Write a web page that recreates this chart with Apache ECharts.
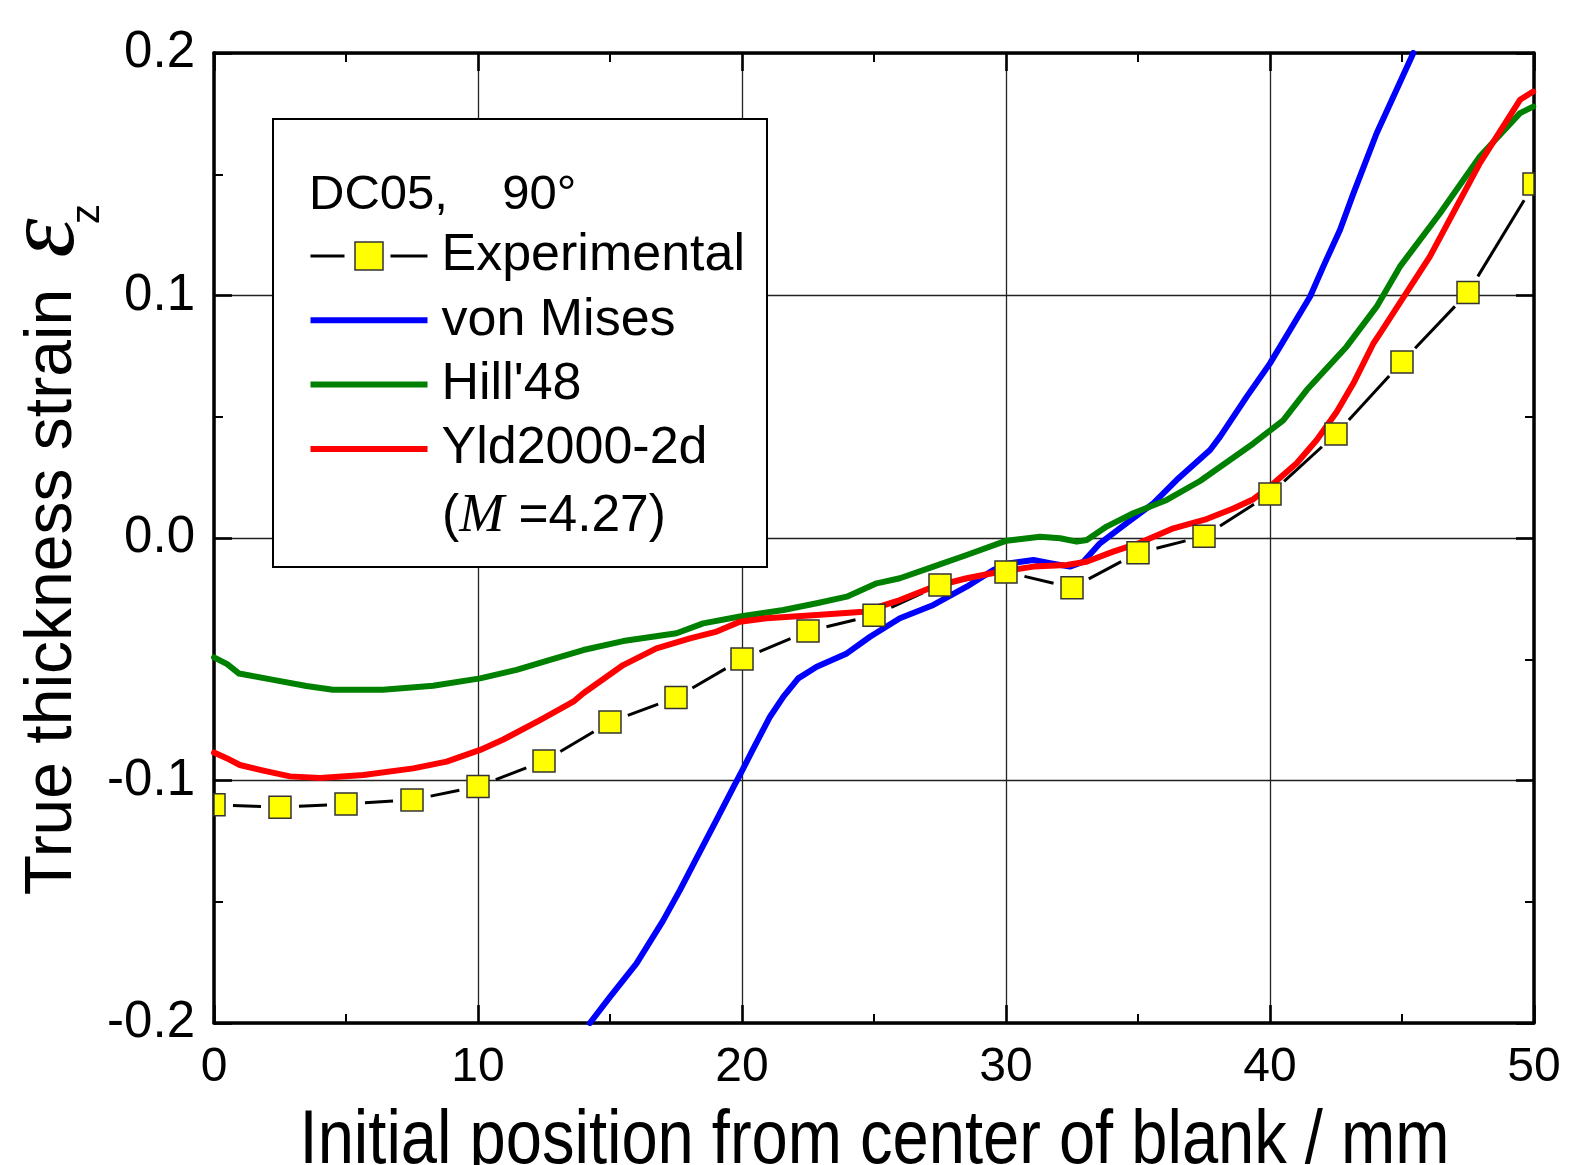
<!DOCTYPE html>
<html><head><meta charset="utf-8">
<script src="https://cdn.jsdelivr.net/npm/echarts@6/dist/echarts.min.js"></script>
<style>html,body{margin:0;padding:0;background:#fff}#c{width:1581px;height:1165px}</style>
</head><body><div id="c"></div>
<script>
// ---------------- data ----------------
const xTicks = [0, 10, 20, 30, 40, 50];
const yTicks = [-0.2, -0.1, 0.0, 0.1, 0.2];

const expX = [0, 2.5, 5, 7.5, 10, 12.5, 15, 17.5, 20, 22.5, 25, 27.5, 30, 32.5, 35, 37.5, 40, 42.5, 45, 47.5, 50];
const expY = [-0.110, -0.111, -0.1097, -0.108, -0.1025, -0.092, -0.0759, -0.0658, -0.0499, -0.0384, -0.0319, -0.0194, -0.014, -0.0205, -0.0061, 0.0007, 0.0181, 0.0429, 0.0726, 0.1012, 0.146];

const vmX = [14.24, 15, 16, 17, 17.65, 18.2, 19.04, 19.7, 20.0, 20.4, 21.06, 21.57, 22.13, 22.83, 23.97, 24.85, 25.98, 27.25, 28.51, 29.52, 30.15, 31.04, 31.67, 32.42, 32.93, 33.56, 34.57, 35.58, 36.46, 37.73, 38.11, 39.12, 40, 40.76, 41.52, 42.02, 42.65, 43.16, 44.04, 45.43];
const vmY = [-0.2, -0.1892, -0.1755, -0.158, -0.1452, -0.1337, -0.1161, -0.1022, -0.096, -0.0875, -0.0737, -0.0654, -0.0579, -0.0531, -0.0476, -0.0407, -0.0331, -0.0276, -0.0201, -0.0132, -0.0104, -0.0091, -0.0104, -0.0118, -0.0098, -0.0022, 0.0061, 0.0143, 0.0239, 0.0363, 0.0418, 0.0583, 0.072, 0.0858, 0.0996, 0.112, 0.127, 0.1421, 0.1669, 0.2];

const hillX = [0, 0.5, 0.95, 2.2, 3.5, 4.5, 6.4, 8.3, 10.08, 11.46, 12.73, 13.99, 15.5, 17.52, 18.53, 19.92, 21.57, 22.83, 23.97, 25.1, 25.98, 27.25, 28.51, 30.02, 31.29, 32.05, 32.68, 33.06, 33.81, 34.82, 36.09, 37.35, 39.37, 40.5, 41.39, 42.9, 44.04, 44.92, 46.44, 47.95, 49.47, 49.97];
const hillY = [-0.0492, -0.052, -0.0559, -0.0584, -0.061, -0.0626, -0.0626, -0.0609, -0.0579, -0.0544, -0.0503, -0.0462, -0.0425, -0.0393, -0.0352, -0.0324, -0.0297, -0.0269, -0.0242, -0.0187, -0.0166, -0.0118, -0.007, -0.0011, 0.0005, -0.0001, -0.0015, -0.0008, 0.0047, 0.0102, 0.0157, 0.0235, 0.039, 0.0485, 0.061, 0.0789, 0.0954, 0.1119, 0.1339, 0.1573, 0.1752, 0.1779];

const yldX = [0, 0.48, 0.98, 1.87, 2.88, 4.02, 5.66, 7.55, 8.81, 10.08, 10.96, 12.35, 13.61, 13.99, 15.5, 16.76, 18.03, 19.04, 19.92, 20.93, 22.83, 24.6, 25.98, 27.25, 28.51, 29.77, 31.04, 32.3, 33.05, 34.06, 35.07, 36.34, 37.6, 38.61, 39.37, 40, 41.01, 41.77, 42.53, 43.16, 43.92, 44.17, 46.06, 47.95, 49.47, 49.97];
const yldY = [-0.0885, -0.0908, -0.0936, -0.0959, -0.0983, -0.099, -0.0977, -0.095, -0.0922, -0.0874, -0.0831, -0.0751, -0.0675, -0.064, -0.0524, -0.0455, -0.0414, -0.0386, -0.0345, -0.0331, -0.0318, -0.0304, -0.0256, -0.0201, -0.0166, -0.0139, -0.0118, -0.0111, -0.0098, -0.0056, -0.002, 0.004, 0.0078, 0.0122, 0.016, 0.0212, 0.0308, 0.0404, 0.0521, 0.0638, 0.0803, 0.0844, 0.1161, 0.1546, 0.1807, 0.1841];

const seriesNames = ['Experimental', 'von Mises', "Hill'48", 'Yld2000-2d'];
const legendTitle = 'DC05,    90°';
const legendNote = '({m|M} =4.27)';
const xTitle = 'Initial position from center of blank / mm';
const yTitle = 'True thickness strain';

// ---------------- chart ----------------
const FONT = "'Liberation Sans', Arial, sans-serif";
const SERIF = "'Liberation Serif', 'Times New Roman', serif";
const zip = (xs, ys) => xs.map((x, i) => [x, ys[i]]);
const expData = zip(expX, expY);
const LINE_ICON = 'path://M0,0L117,0L117,6L0,6Z';
const MARK = 22;
const LW = 6;

const axisCommon = {
  type: 'value',
  axisLine: { show: true, onZero: false, lineStyle: { color: '#000', width: 3.5 } },
  axisTick: { show: true, inside: true, length: 18, lineStyle: { color: '#000', width: 2.6 } },
  minorTick: { show: true, splitNumber: 2, length: 9, lineStyle: { color: '#000', width: 2 } },
};
const gridLine = { show: true, lineStyle: { color: '#222', width: 1.3 } };

const chart = echarts.init(document.getElementById('c'), null, { renderer: 'canvas' });
chart.setOption({
  animation: false,
  backgroundColor: '#fff',
  grid: { left: 214, right: 47, top: 53, bottom: 142, containLabel: false },
  xAxis: [
    Object.assign({}, axisCommon, {
      min: xTicks[0], max: xTicks[xTicks.length - 1], interval: xTicks[1] - xTicks[0], position: 'bottom',
      axisLabel: { fontSize: 48, color: '#000', fontFamily: FONT, margin: 21 },
      splitLine: gridLine
    }),
    Object.assign({}, axisCommon, {
      min: xTicks[0], max: xTicks[xTicks.length - 1], interval: xTicks[1] - xTicks[0], position: 'top',
      axisLabel: { show: false }, splitLine: { show: false }
    })
  ],
  yAxis: [
    Object.assign({}, axisCommon, {
      min: yTicks[0], max: yTicks[yTicks.length - 1], interval: 0.1, position: 'left',
      axisLabel: { fontSize: 51, color: '#000', fontFamily: FONT, margin: 19, padding: [0, 0, 8, 0],
        formatter: v => v.toFixed(1) },
      splitLine: gridLine
    }),
    Object.assign({}, axisCommon, {
      min: yTicks[0], max: yTicks[yTicks.length - 1], interval: 0.1, position: 'right',
      axisLabel: { show: false }, splitLine: { show: false }
    })
  ],
  legend: {
    orient: 'vertical', left: 309, top: 230, padding: 0,
    itemWidth: 117, itemHeight: 35, itemGap: 12.3, selectedMode: false, z: 8,
    textStyle: { fontSize: 52, fontFamily: FONT, color: '#000', lineHeight: 52, padding: [0, 0, 0, 9] },
    data: [
      { name: seriesNames[0],
        lineStyle: { color: '#000', width: 3, type: [34, 46, 37, 200], opacity: 1 },
        itemStyle: { color: '#ffff00', borderColor: '#333', borderWidth: 1.5, opacity: 1 } },
      { name: seriesNames[1], icon: LINE_ICON },
      { name: seriesNames[2], icon: LINE_ICON },
      { name: seriesNames[3], icon: LINE_ICON }
    ]
  },
  graphic: [
    { type: 'rect', z: 1, shape: { x: 273, y: 119, width: 494, height: 448 },
      style: { fill: '#fff', stroke: '#000', lineWidth: 2 } },
    { type: 'text', z: 9, x: 309, y: 195,
      style: { text: legendTitle, fontSize: 49, fontFamily: FONT, fill: '#000', align: 'left', verticalAlign: 'middle' } },
    { type: 'text', z: 9, x: 442, y: 517,
      style: { text: legendNote, fontSize: 51.5, fontFamily: FONT, fill: '#000', align: 'left', verticalAlign: 'middle',
        rich: { m: { fontSize: 54, fontFamily: SERIF, fontStyle: 'italic', fill: '#000' } } } },
    { type: 'text', z: 9, x: 874.5, y: 1142, scaleX: 0.856,
      style: { text: xTitle, fontSize: 76, fontFamily: FONT, fill: '#000', align: 'center', verticalAlign: 'middle' } },
    { type: 'text', z: 9, x: 52.5, y: 592, rotation: Math.PI / 2,
      style: { text: yTitle, fontSize: 66, fontFamily: FONT, fill: '#000', align: 'center', verticalAlign: 'middle' } },
    { type: 'text', z: 9, x: 47, y: 238, rotation: Math.PI / 2,
      style: { text: 'ε', fontSize: 100, fontFamily: SERIF, fontStyle: 'italic', fill: '#000', align: 'center', verticalAlign: 'middle' } },
    { type: 'text', z: 9, x: 88, y: 214, rotation: Math.PI / 2,
      style: { text: 'z', fontSize: 40, fontFamily: FONT, fill: '#000', align: 'center', verticalAlign: 'middle' } }
  ],
  series: [
    {
      type: 'custom', name: 'expSegments', coordinateSystem: 'cartesian2d', silent: true, z: 2,
      data: expData, encode: { x: 0, y: 1 },
      renderItem: (params, api) => {
        const i = params.dataIndex;
        if (i >= expX.length - 1) return null;
        const p0 = api.coord([expX[i], expY[i]]);
        const p1 = api.coord([expX[i + 1], expY[i + 1]]);
        const dx = p1[0] - p0[0], dy = p1[1] - p0[1];
        const L = Math.hypot(dx, dy), g = 19;
        if (L <= 2 * g) return null;
        const ux = dx / L, uy = dy / L;
        return { type: 'line',
          shape: { x1: p0[0] + ux * g, y1: p0[1] + uy * g, x2: p1[0] - ux * g, y2: p1[1] - uy * g },
          style: { stroke: '#000', lineWidth: 3 } };
      }
    },
    { type: 'line', name: seriesNames[1], data: zip(vmX, vmY), showSymbol: false, symbol: 'none', z: 3,
      lineStyle: { color: '#0000ff', width: LW, join: 'round', cap: 'round' }, itemStyle: { color: '#0000ff' } },
    { type: 'line', name: seriesNames[2], data: zip(hillX, hillY), showSymbol: false, symbol: 'none', z: 3,
      lineStyle: { color: '#008000', width: LW, join: 'round', cap: 'round' }, itemStyle: { color: '#008000' } },
    { type: 'line', name: seriesNames[3], data: zip(yldX, yldY), showSymbol: false, symbol: 'none', z: 3,
      lineStyle: { color: '#ff0000', width: LW, join: 'round', cap: 'round' }, itemStyle: { color: '#ff0000' } },
    {
      type: 'custom', name: 'expMarkers', coordinateSystem: 'cartesian2d', silent: true, z: 5,
      data: expData, encode: { x: 0, y: 1 },
      renderItem: (params, api) => {
        const p = api.coord([api.value(0), api.value(1)]);
        const cs = params.coordSys;
        const shape = echarts.graphic.clipRectByRect(
          { x: p[0] - MARK / 2, y: p[1] - MARK / 2, width: MARK, height: MARK },
          { x: cs.x, y: cs.y, width: cs.width, height: cs.height });
        if (!shape) return null;
        return { type: 'rect', shape: shape,
          style: { fill: '#ffff00', stroke: '#333', lineWidth: 1.5 } };
      }
    },
    // invisible carrier so the legend shows the experimental entry (line + square)
    { type: 'line', name: seriesNames[0], data: expData, symbol: 'rect', symbolSize: MARK, showSymbol: true, z: 1,
      silent: true,
      lineStyle: { color: '#000', width: 3, opacity: 0 },
      itemStyle: { color: '#ffff00', borderColor: '#333', borderWidth: 1.5, opacity: 0 } }
  ]
});
</script></body></html>
